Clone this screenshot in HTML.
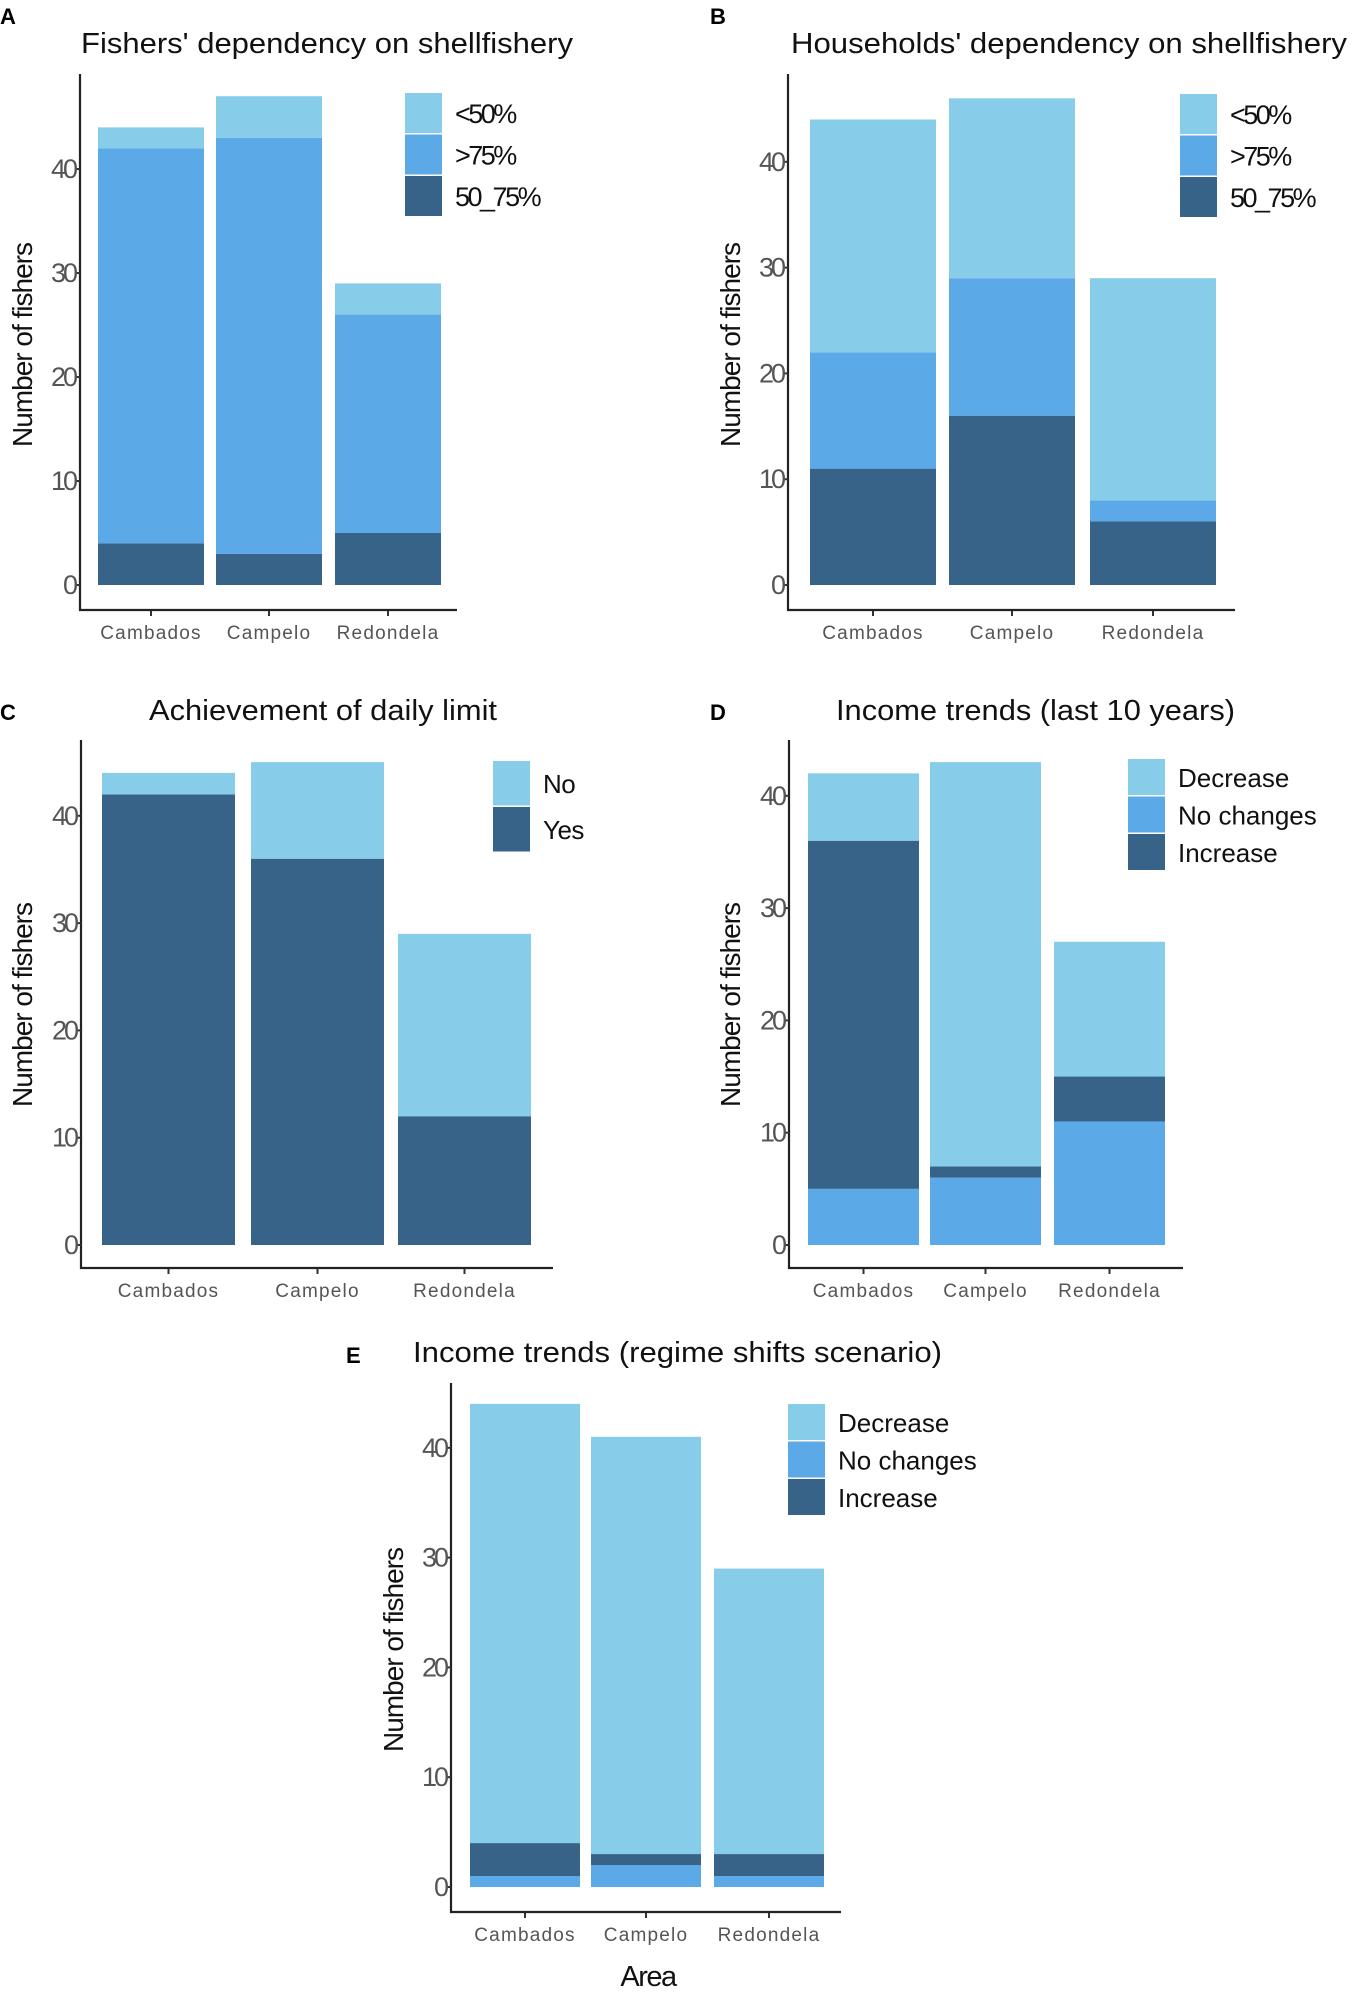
<!DOCTYPE html>
<html><head><meta charset="utf-8"><style>
html,body{margin:0;padding:0;background:#fff;}
svg{display:block;}
text{font-family:"Liberation Sans",Arial,sans-serif;}
</style></head>
<body>
<svg id="fig" width="1355" height="1999" viewBox="0 0 1355 1999" xmlns="http://www.w3.org/2000/svg"></svg>
<script>
// ---------- data ----------
const categories = ["Cambados", "Campelo", "Redondela"];
const yTicks = [0, 10, 20, 30, 40];

const aSeries = ["50_75%", ">75%", "<50%"];
const aDark = [4, 3, 5];
const aMid = [38, 40, 21];
const aLight = [2, 4, 3];

const bSeries = ["50_75%", ">75%", "<50%"];
const bDark = [11, 16, 6];
const bMid = [11, 13, 2];
const bLight = [22, 17, 21];

const cSeries = ["Yes", "No"];
const cYes = [42, 36, 12];
const cNo = [2, 9, 17];

const dSeries = ["No changes", "Increase", "Decrease"];
const dNoChange = [5, 6, 11];
const dIncrease = [31, 1, 4];
const dDecrease = [6, 36, 12];

const eSeries = ["No changes", "Increase", "Decrease"];
const eNoChange = [1, 2, 1];
const eIncrease = [3, 1, 2];
const eDecrease = [40, 38, 26];

const LIGHT = "#87CDEA", MID = "#5CA9E8", DARK = "#376388";
const NS = "http://www.w3.org/2000/svg";
const svg = document.getElementById("fig");

function mk(tag, attrs, parent, txt) {
  const el = document.createElementNS(NS, tag);
  for (const k in attrs) el.setAttribute(k, attrs[k]);
  if (txt !== undefined) el.textContent = txt;
  (parent || svg).appendChild(el);
  return el;
}

function panel(cfg) {
  const g = mk("g", {});
  
  
  const y = v => cfg.zeroY - v * cfg.unit;
  const L = mk("text", {x: cfg.letterX, y: cfg.letterY, "font-size": 22, "font-weight": "bold", fill: "#000"}, g, cfg.letter);
  
  
  const T = mk("text", {x: cfg.titleX, y: cfg.titleY, "font-size": 28.5, fill: "#111", textLength: cfg.titleW, lengthAdjust: "spacingAndGlyphs"}, g, cfg.title);
  
  
  for (let i = 0; i < categories.length; i++) {
    let base = 0;
    const x0 = cfg.barX[i], w = cfg.barW;
    for (let s = 0; s < cfg.stacks.length; s++) {
      const v = cfg.stacks[s][i];
      if (v > 0) {
        const r = mk("rect", {x: x0, y: y(base + v), width: w, height: y(base) - y(base + v), fill: cfg.colors[s]}, g);
        
        
      }
      base += v;
    }
    const tx = x0 + w / 2;
    const tk = mk("line", {x1: tx, x2: tx, y1: cfg.xAxisY, y2: cfg.xAxisY + 6, stroke: "#333", "stroke-width": 2}, g);
    
    
    const lb = mk("text", {x: tx, y: cfg.xAxisY + 29, "font-size": 19, fill: "#555", "text-anchor": "middle", "letter-spacing": 1.2}, g, categories[i]);
    
    
  }
  const ya = mk("line", {x1: cfg.axisX, x2: cfg.axisX, y1: cfg.axisTop, y2: cfg.xAxisY + 1, stroke: "#222", "stroke-width": 2.2}, g);
  
  
  const xa = mk("line", {x1: cfg.axisX - 1, x2: cfg.axisEnd, y1: cfg.xAxisY, y2: cfg.xAxisY, stroke: "#222", "stroke-width": 2.2}, g);
  
  
  for (const t of yTicks) {
    const tl = mk("line", {x1: cfg.axisX - 5, x2: cfg.axisX, y1: y(t), y2: y(t), stroke: "#333", "stroke-width": 2}, g);
    
    
    const tt = mk("text", {x: cfg.axisX - 5, y: y(t) + 9, "font-size": 27, fill: "#555", "text-anchor": "end", "letter-spacing": -3}, g, String(t));
    
    
  }
  const yt = mk("text", {x: 0, y: 0, "font-size": 28, fill: "#111", "text-anchor": "middle", "letter-spacing": -1, transform: `translate(${cfg.yTitleX},${cfg.yTitleY}) rotate(-90)`}, g, "Number of fishers");
  
  
  for (let k = 0; k < cfg.legend.length; k++) {
    const it = cfg.legend[k];
    const ky = cfg.legY + k * cfg.legStep;
    const r = mk("rect", {x: cfg.legX, y: ky, width: 37, height: cfg.legStep - 1.5, fill: it.c}, g);
    
    
    const t = mk("text", {x: cfg.legX + 50, y: ky + cfg.legStep / 2 + 9, "font-size": cfg.legFont, fill: "#111", "letter-spacing": cfg.legLS}, g, it.t);
    
    
  }
}

panel({id: "a", letter: "A", letterX: 0, letterY: 24, title: "Fishers' dependency on shellfishery", titleX: 81, titleY: 53, titleW: 492,
  zeroY: 585, unit: 10.4, axisX: 80, axisTop: 74, xAxisY: 610, axisEnd: 457,
  barX: [98, 216, 335], barW: 106, stacks: [aDark, aMid, aLight], colors: [DARK, MID, LIGHT],
  yTitleX: 32, yTitleY: 345,
  legX: 405, legY: 93, legStep: 41.5, legFont: 27, legLS: -2.5,
  legend: [{t: aSeries[2], c: LIGHT}, {t: aSeries[1], c: MID}, {t: aSeries[0], c: DARK}]});

panel({id: "b", letter: "B", letterX: 710, letterY: 24, title: "Households' dependency on shellfishery", titleX: 791, titleY: 53, titleW: 556,
  zeroY: 585, unit: 10.58, axisX: 788, axisTop: 74, xAxisY: 610, axisEnd: 1235,
  barX: [810, 949, 1090], barW: 126, stacks: [bDark, bMid, bLight], colors: [DARK, MID, LIGHT],
  yTitleX: 740, yTitleY: 345,
  legX: 1180, legY: 94, legStep: 41.5, legFont: 27, legLS: -2.5,
  legend: [{t: bSeries[2], c: LIGHT}, {t: bSeries[1], c: MID}, {t: bSeries[0], c: DARK}]});

panel({id: "c", letter: "C", letterX: 0, letterY: 720, title: "Achievement of daily limit", titleX: 149, titleY: 720, titleW: 348,
  zeroY: 1245, unit: 10.73, axisX: 81, axisTop: 740, xAxisY: 1268, axisEnd: 553,
  barX: [102, 251, 398], barW: 133, stacks: [cYes, cNo], colors: [DARK, LIGHT],
  yTitleX: 32, yTitleY: 1005,
  legX: 493, legY: 761, legStep: 46, legFont: 26, legLS: -0.5,
  legend: [{t: cSeries[1], c: LIGHT}, {t: cSeries[0], c: DARK}]});

panel({id: "d", letter: "D", letterX: 710, letterY: 720, title: "Income trends (last 10 years)", titleX: 836, titleY: 720, titleW: 399,
  zeroY: 1245, unit: 11.23, axisX: 789, axisTop: 740, xAxisY: 1268, axisEnd: 1183,
  barX: [808, 930, 1054], barW: 111, stacks: [dNoChange, dIncrease, dDecrease], colors: [MID, DARK, LIGHT],
  yTitleX: 740, yTitleY: 1005,
  legX: 1128, legY: 759, legStep: 37.5, legFont: 26, legLS: 0,
  legend: [{t: dSeries[2], c: LIGHT}, {t: dSeries[0], c: MID}, {t: dSeries[1], c: DARK}]});

panel({id: "e", letter: "E", letterX: 346, letterY: 1363, title: "Income trends (regime shifts scenario)", titleX: 413, titleY: 1362, titleW: 529,
  zeroY: 1887, unit: 10.98, axisX: 451, axisTop: 1383, xAxisY: 1912, axisEnd: 841,
  barX: [470, 591, 714], barW: 110, stacks: [eNoChange, eIncrease, eDecrease], colors: [MID, DARK, LIGHT],
  yTitleX: 403, yTitleY: 1650,
  legX: 788, legY: 1404, legStep: 37.5, legFont: 26, legLS: 0,
  legend: [{t: eSeries[2], c: LIGHT}, {t: eSeries[0], c: MID}, {t: eSeries[1], c: DARK}]});

const area = mk("text", {x: 648, y: 1986, "font-size": 29, fill: "#111", "text-anchor": "middle", "letter-spacing": -1.5}, svg, "Area");


</script>
</body></html>
